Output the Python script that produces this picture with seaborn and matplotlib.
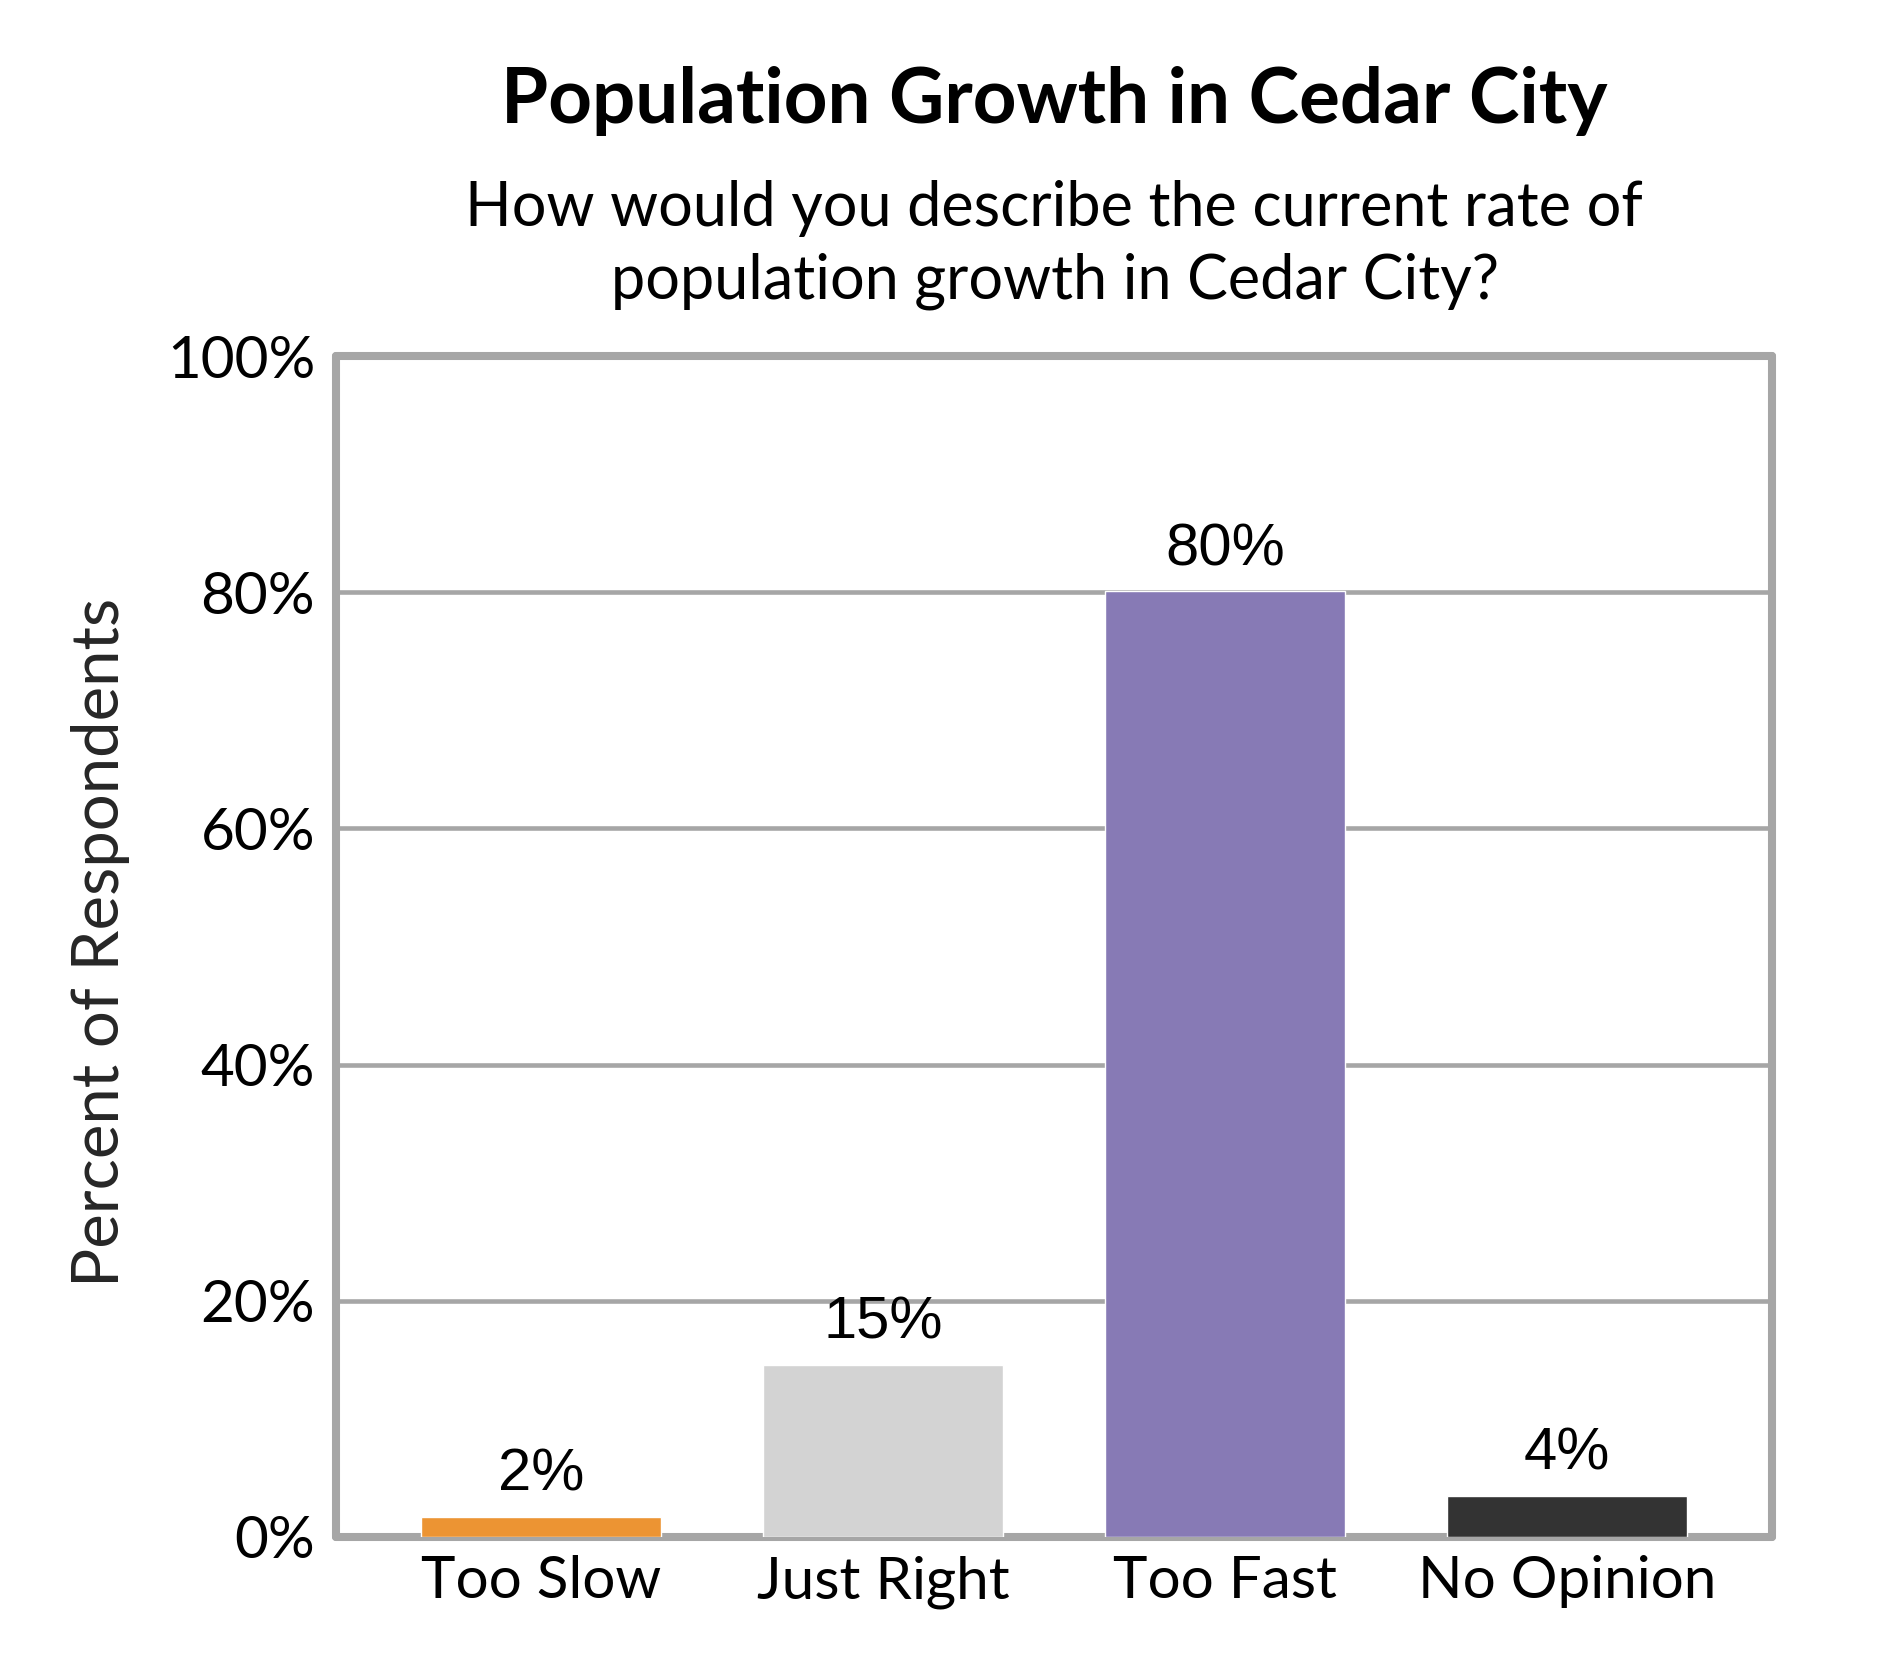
import matplotlib
matplotlib.use("Agg")
import matplotlib.pyplot as plt
import seaborn as sns
import pandas as pd

categories = ["Too Slow", "Just Right", "Too Fast", "No Opinion"]
values = [1.7, 14.6, 80.1, 3.5]
value_labels = ["2%", "15%", "80%", "4%"]
colors = ["#EC9433", "#D3D3D3", "#877AB5", "#333333"]
y_ticks = [0, 20, 40, 60, 80, 100]
y_tick_labels = ["0%", "20%", "40%", "60%", "80%", "100%"]
title = "Population Growth in Cedar City"
subtitle_lines = ["How would you describe the current rate of",
                  "population growth in Cedar City?"]
y_label = "Percent of Respondents"

sns.set_style("white")
plt.rcParams["font.family"] = ["Lato", "DejaVu Sans"]

W, H, DPI = 1890, 1680, 100
fig = plt.figure(figsize=(W / DPI, H / DPI), dpi=DPI)
ax = fig.add_axes([336 / W, 1 - 1537 / H, (1772 - 336) / W, (1537 - 356) / H])

df = pd.DataFrame({"category": categories, "value": values})
sns.barplot(data=df, x="category", y="value", hue="category",
            palette=colors, legend=False, saturation=1, width=0.7,
            errorbar=None, ax=ax, zorder=3)

gray = "#A6A6A6"
ax.set_xlim(-0.6, 3.6)
ax.set_ylim(0, 100)
ax.set_yticks(y_ticks)
ax.set_yticklabels(y_tick_labels)
ax.yaxis.grid(True, color=gray, linewidth=3.3, zorder=0)
ax.set_axisbelow(True)
for s in ax.spines.values():
    s.set_visible(True)
    s.set_color(gray)
    s.set_linewidth(5.8)
    s.set_capstyle("round")
    s.set_joinstyle("round")
    s.set_zorder(2)

ax.tick_params(axis="both", length=0, labelsize=42, colors="black")
ax.tick_params(axis="y", pad=15)
ax.tick_params(axis="x", pad=13)
ax.set_xlabel("")
ax.set_ylabel(y_label, fontsize=47, rotation=90, rotation_mode="default",
              ha="center", va="center")
ax.yaxis.set_label_coords((101 - 336) / (1772 - 336), 0.5 + (946 - 942) / (1537 - 356))

for i, (v, lab) in enumerate(zip(values, value_labels)):
    ax.annotate(lab, (i, v), xytext=(0, 18.7), textcoords="offset points",
                ha="center", va="baseline", fontsize=43,
                family=["Liberation Sans", "DejaVu Sans"], color="black")

fig.text(1054 / W, 1 - 123 / H, title, ha="center", va="baseline",
         fontsize=55, fontweight="bold", color="black")
fig.text(1054 / W, 1 - 226 / H, subtitle_lines[0], ha="center", va="baseline",
         fontsize=44, color="black")
fig.text(1055 / W, 1 - 298 / H, subtitle_lines[1], ha="center", va="baseline",
         fontsize=44, color="black")

fig.savefig("out.png", dpi=DPI, facecolor="white")
